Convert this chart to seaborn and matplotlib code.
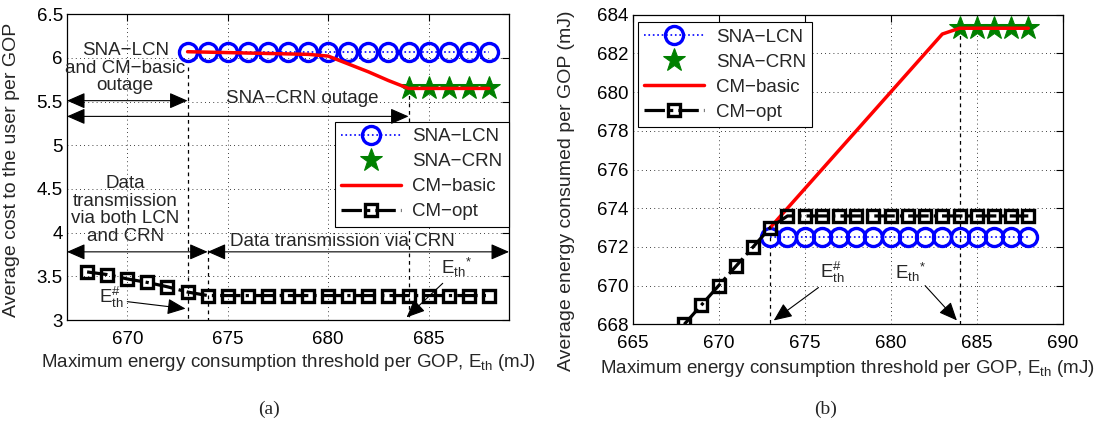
import matplotlib
matplotlib.use("Agg")
import matplotlib.pyplot as plt
import seaborn as sns

# ---------------- data: panel (a) ----------------
lcn_x_a = [673, 674, 675, 676, 677, 678, 679, 680, 681, 682, 683, 684, 685, 686, 687, 688]
lcn_y_a = [6.07, 6.07, 6.07, 6.07, 6.07, 6.07, 6.07, 6.07, 6.07, 6.07, 6.07, 6.07, 6.07, 6.07, 6.07, 6.07]
crn_x_a = [684, 685, 686, 687, 688]
crn_y_a = [5.65, 5.65, 5.65, 5.65, 5.65]
basic_x_a = [673, 674, 675, 676, 677, 678, 679, 680, 681, 682, 683, 684, 685, 686, 687, 688]
basic_y_a = [6.07, 6.065, 6.06, 6.055, 6.05, 6.045, 6.04, 6.02, 5.93, 5.84, 5.74, 5.65, 5.65, 5.65, 5.65, 5.65]
opt_x_a = [668, 669, 670, 671, 672, 673, 674, 675, 676, 677, 678, 679, 680, 681, 682, 683, 684, 685, 686, 687, 688]
opt_y_a = [3.55, 3.52, 3.47, 3.43, 3.38, 3.32, 3.28, 3.28, 3.28, 3.28, 3.28, 3.28, 3.28, 3.28, 3.28, 3.28, 3.28, 3.28, 3.28, 3.28, 3.28]

# ---------------- data: panel (b) ----------------
lcn_x_b = [673, 674, 675, 676, 677, 678, 679, 680, 681, 682, 683, 684, 685, 686, 687, 688]
lcn_y_b = [672.5, 672.5, 672.5, 672.5, 672.5, 672.5, 672.5, 672.5, 672.5, 672.5, 672.5, 672.5, 672.5, 672.5, 672.5, 672.5]
crn_x_b = [684, 685, 686, 687, 688]
crn_y_b = [683.3, 683.3, 683.3, 683.3, 683.3]
basic_x_b = [673, 674, 675, 676, 677, 678, 679, 680, 681, 682, 683, 684, 685, 686, 687, 688]
basic_y_b = [673, 674, 675, 676, 677, 678, 679, 680, 681, 682, 683, 683.3, 683.3, 683.3, 683.3, 683.3]
opt_x_b = [668, 669, 670, 671, 672, 673, 674, 675, 676, 677, 678, 679, 680, 681, 682, 683, 684, 685, 686, 687, 688]
opt_y_b = [668, 669, 670, 671, 672, 673, 673.6, 673.6, 673.6, 673.6, 673.6, 673.6, 673.6, 673.6, 673.6, 673.6, 673.6, 673.6, 673.6, 673.6, 673.6]

labels = ["SNA\u2212LCN", "SNA\u2212CRN", "CM\u2212basic", "CM\u2212opt"]
xticks_a = [670, 675, 680, 685]
yticks_a = [3, 3.5, 4, 4.5, 5, 5.5, 6, 6.5]
yticklabels_a = ["3", "3.5", "4", "4.5", "5", "5.5", "6", "6.5"]
xticks_b = [665, 670, 675, 680, 685, 690]
yticks_b = [668, 670, 672, 674, 676, 678, 680, 682, 684]

sns.set_style("white")
plt.rcParams['font.family'] = ['Liberation Sans', 'DejaVu Sans']
plt.rcParams['mathtext.fontset'] = 'custom'
plt.rcParams['mathtext.rm'] = 'Liberation Sans'
plt.rcParams['mathtext.it'] = 'Liberation Sans:italic'
plt.rcParams['mathtext.bf'] = 'Liberation Sans:bold'

FS = 13.5
fig = plt.figure(figsize=(11.17, 4.26), dpi=100)
axA = fig.add_axes([0.060, 0.2488, 0.3957, 0.718])
axB = fig.add_axes([0.5664, 0.2387, 0.385, 0.7268])


def draw_series(ax, lx, ly, cx, cy, bx, by, ox, oy):
    sns.lineplot(x=lx, y=ly, ax=ax, color='blue', linestyle=':', lw=1.2,
                 marker='o', markersize=13, markerfacecolor='none',
                 markeredgecolor='blue', markeredgewidth=2.4, label=labels[0], zorder=3)
    sns.lineplot(x=cx, y=cy, ax=ax, color='green', linestyle='none',
                 marker='*', markersize=17, markerfacecolor='green',
                 markeredgecolor='green', label=labels[1], zorder=3)
    sns.lineplot(x=bx, y=by, ax=ax, color='red', linestyle='-', lw=2.5,
                 label=labels[2], zorder=4)
    sns.lineplot(x=ox, y=oy, ax=ax, color='black', linestyle='-.', lw=2.3,
                 marker='s', markersize=8, markerfacecolor='none',
                 markeredgecolor='black', markeredgewidth=2.4, label=labels[3], zorder=5)


def style_axes(ax):
    for s in ax.spines.values():
        s.set_visible(True)
        s.set_color('black')
        s.set_linewidth(0.9)
    ax.grid(True, color='black', linestyle=(0, (1, 4)), lw=0.6)
    ax.tick_params(direction='in', length=5, width=0.8, top=True, right=True,
                   labelsize=FS, colors='black')
    ax.tick_params(axis='x', pad=8)
    ax.tick_params(axis='y', pad=3)


def darrow(ax, x0, x1, y):
    ax.annotate('', xy=(x1, y), xytext=(x0, y),
                arrowprops=dict(arrowstyle='<|-|>,head_length=0.8,head_width=0.35',
                                color='black', lw=0.8, shrinkA=0, shrinkB=0,
                                mutation_scale=14), zorder=6)


def sarrow(ax, xt, yt, xh, yh):
    ax.annotate('', xy=(xh, yh), xytext=(xt, yt),
                arrowprops=dict(arrowstyle='-|>,head_length=0.8,head_width=0.35',
                                color='black', lw=0.8, shrinkA=0, shrinkB=0,
                                mutation_scale=14), zorder=6)


dash = (0, (3, 3))
xlabel = "Maximum energy consumption threshold per GOP, E$_{\\mathrm{th}}$ (mJ)"

# ---------------- panel (a) ----------------
draw_series(axA, lcn_x_a, lcn_y_a, crn_x_a, crn_y_a, basic_x_a, basic_y_a, opt_x_a, opt_y_a)
axA.set_xlim(667, 689)
axA.set_ylim(3, 6.5)
axA.set_xticks(xticks_a)
axA.set_yticks(yticks_a)
axA.set_yticklabels(yticklabels_a)
style_axes(axA)
axA.plot([673, 673], [5.9, 3.0], color='black', linestyle=dash, lw=0.9, zorder=2)
axA.plot([674, 674], [3.8, 3.0], color='black', linestyle=dash, lw=0.9, zorder=2)
axA.plot([684, 684], [5.65, 3.0], color='black', linestyle=dash, lw=0.9, zorder=2)
axA.set_xlabel(xlabel, fontsize=FS)
axA.xaxis.set_label_coords(0.5, -0.105)
axA.set_ylabel("Average cost to the user per GOP", fontsize=14)
axA.yaxis.set_label_coords(-0.106, 0.49)

axA.text(669.9, 5.88, "SNA\u2212LCN\nand CM\u2212basic\noutage", ha='center', va='center',
         fontsize=FS, linespacing=1.05)
axA.text(678.7, 5.54, "SNA\u2212CRN outage", ha='center', va='center', fontsize=FS)
axA.text(669.9, 4.26, "Data\ntransmission\nvia both LCN\nand CRN", ha='center', va='center',
         fontsize=FS, linespacing=1.05)
axA.text(680.7, 3.90, "Data transmission via CRN", ha='center', va='center', fontsize=FS)
axA.text(668.6, 3.26, "E$_{\\mathrm{th}}^{\\#}$", ha='left', va='center', fontsize=FS)
axA.text(685.6, 3.60, "E$_{\\mathrm{th}}{}^{*}$", ha='left', va='center', fontsize=FS)
darrow(axA, 667, 673, 5.51)
darrow(axA, 667, 684, 5.33)
darrow(axA, 667, 674, 3.78)
darrow(axA, 674, 689, 3.78)
sarrow(axA, 670.0, 3.21, 672.9, 3.13)
sarrow(axA, 685.7, 3.42, 683.9, 3.03)

legA = axA.legend(loc='upper right', bbox_to_anchor=(1.0, 0.648), fontsize=FS,
                  frameon=True, fancybox=False, framealpha=1, edgecolor='black',
                  handlelength=3.2, labelspacing=0.42, borderpad=0.35, handletextpad=0.6,
                  borderaxespad=0)
legA.get_frame().set_linewidth(0.8)

# ---------------- panel (b) ----------------
draw_series(axB, lcn_x_b, lcn_y_b, crn_x_b, crn_y_b, basic_x_b, basic_y_b, opt_x_b, opt_y_b)
axB.set_xlim(665, 690)
axB.set_ylim(668, 684)
axB.set_xticks(xticks_b)
axB.set_yticks(yticks_b)
style_axes(axB)
axB.plot([673, 673], [672.5, 668], color='black', linestyle=dash, lw=0.9, zorder=2)
axB.plot([684, 684], [683.3, 668], color='black', linestyle=dash, lw=0.9, zorder=2)
axB.set_xlabel(xlabel, fontsize=FS)
axB.xaxis.set_label_coords(0.5, -0.109)
axB.set_ylabel("Average energy consumed per GOP (mJ)", fontsize=14)
axB.yaxis.set_label_coords(-0.134, 0.43)
axB.text(675.9, 670.7, "E$_{\\mathrm{th}}^{\\#}$", ha='left', va='center', fontsize=FS)
axB.text(680.25, 670.7, "E$_{\\mathrm{th}}{}^{*}$", ha='left', va='center', fontsize=FS)
sarrow(axB, 675.8, 669.9, 673.2, 668.2)
sarrow(axB, 682.0, 670.0, 683.85, 668.2)

legB = axB.legend(loc='upper left', bbox_to_anchor=(0.012, 0.977), fontsize=FS,
                  frameon=True, fancybox=False, framealpha=1, edgecolor='black',
                  handlelength=3.2, labelspacing=0.42, borderpad=0.35, handletextpad=0.6,
                  borderaxespad=0)
legB.get_frame().set_linewidth(0.8)

fig.text(0.241, 0.038, "(a)", ha='center', va='center', fontsize=14,
         family=['Liberation Serif', 'DejaVu Serif'])
fig.text(0.739, 0.038, "(b)", ha='center', va='center', fontsize=14,
         family=['Liberation Serif', 'DejaVu Serif'])

fig.savefig("out.png", dpi=100)
